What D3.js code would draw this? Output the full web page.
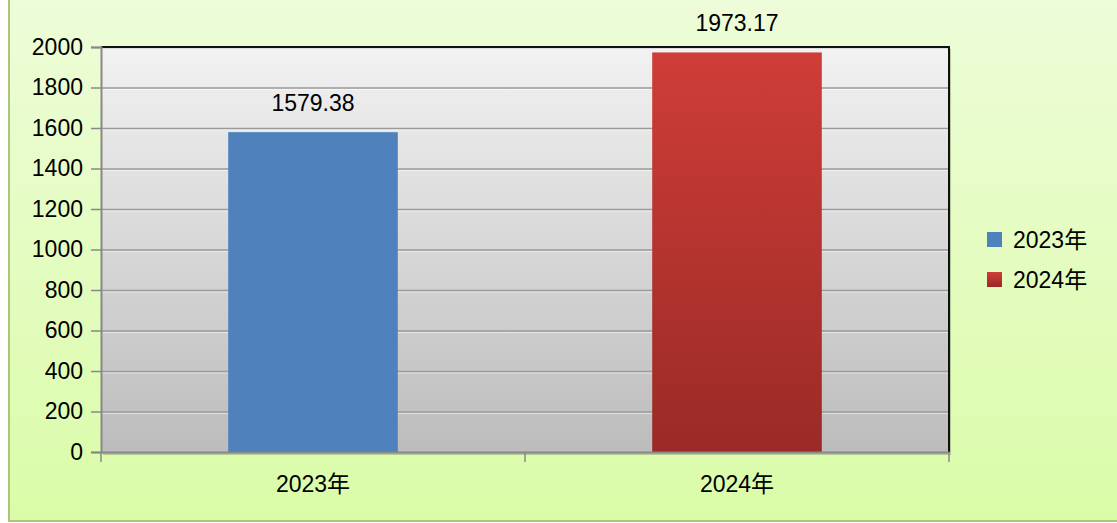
<!DOCTYPE html>
<html><head><meta charset="utf-8">
<script src="https://cdn.jsdelivr.net/npm/d3@7"></script>
<style>body{margin:0;background:#fff;} svg{display:block;}</style>
</head><body>
<script>
const categories = ["2023年", "2024年"];
const values = [1579.38, 1973.17];
const labels = ["1579.38", "1973.17"];
const yTicks = [0, 200, 400, 600, 800, 1000, 1200, 1400, 1600, 1800, 2000];
const colorsTop = ["#4f81bd", "#cf3d38"];
const colorsBot = ["#4f81bd", "#9a2a26"];

const W = 1117, H = 523;
const FONT = "Liberation Sans, Arial, 'Noto Sans CJK SC', sans-serif";
const svg = d3.select("body").append("svg").attr("width", W).attr("height", H);
const defs = svg.append("defs");

const bg = defs.append("linearGradient").attr("id","bg").attr("x1",0).attr("y1",0).attr("x2",0).attr("y2",1);
bg.append("stop").attr("offset","0%").attr("stop-color","#eefcd9");
bg.append("stop").attr("offset","100%").attr("stop-color","#dafca8");
const pg = defs.append("linearGradient").attr("id","pg").attr("x1",0).attr("y1",0).attr("x2",0).attr("y2",1);
pg.append("stop").attr("offset","0%").attr("stop-color","#f2f2f2");
pg.append("stop").attr("offset","100%").attr("stop-color","#bcbcbc");
categories.forEach((c,i)=>{
  const g = defs.append("linearGradient").attr("id","bar"+i).attr("x1",0).attr("y1",0).attr("x2",0).attr("y2",1);
  g.append("stop").attr("offset","0%").attr("stop-color",colorsTop[i]);
  g.append("stop").attr("offset","100%").attr("stop-color",colorsBot[i]);
});

// outer chart background
svg.append("rect").attr("x",9).attr("y",-5).attr("width",W).attr("height",H+5-2)
  .attr("fill","url(#bg)").attr("stroke","#a8c878").attr("stroke-width",2);

const L = 101, R = 949, T = 47, B = 452;
const x = d3.scaleBand().domain(categories).range([L,R]).paddingInner(0.6).paddingOuter(0.3);
const y = d3.scaleLinear().domain([0,2000]).range([B,T]);

// plot area shadow + fill
svg.append("rect").attr("x",L+2).attr("y",T+2).attr("width",R-L).attr("height",B-T+1).attr("fill","#8a9a70").attr("opacity",0.5);
svg.append("rect").attr("x",L).attr("y",T).attr("width",R-L).attr("height",B-T).attr("fill","url(#pg)");

// gridlines
svg.append("g").selectAll("line").data(yTicks.filter(d=>d>0)).join("line")
  .attr("x1",L).attr("x2",R).attr("y1",d=>y(d)+0.5).attr("y2",d=>y(d)+0.5)
  .attr("stroke","#9a9a9a").attr("stroke-width",1.5);
svg.append("g").selectAll("line").data(yTicks.filter(d=>d>0 && d<2000)).join("line")
  .attr("x1",L).attr("x2",R).attr("y1",d=>y(d)+2).attr("y2",d=>y(d)+2)
  .attr("stroke","#ffffff").attr("stroke-opacity",0.5).attr("stroke-width",1);

// top and right borders
svg.append("line").attr("x1",L).attr("x2",R+1).attr("y1",T).attr("y2",T).attr("stroke","#111").attr("stroke-width",2);
svg.append("line").attr("x1",R).attr("x2",R).attr("y1",T).attr("y2",B).attr("stroke","#111").attr("stroke-width",2);

// bars
svg.append("g").selectAll("rect").data(values).join("rect")
  .attr("x",(d,i)=>x(categories[i])).attr("width",x.bandwidth())
  .attr("y",d=>y(d)).attr("height",d=>B-y(d))
  .attr("fill",(d,i)=>`url(#bar${i})`);

// data labels
svg.append("g").selectAll("text").data(values).join("text")
  .attr("x",(d,i)=>x(categories[i])+x.bandwidth()/2).attr("y",d=>y(d)-21)
  .attr("text-anchor","middle").attr("font-family",FONT)
  .attr("font-size",23).attr("fill","#000").text((d,i)=>labels[i]);

// axes
const yAxis = svg.append("g").attr("transform",`translate(${L},0)`)
  .call(d3.axisLeft(y).tickValues(yTicks).tickSize(10).tickPadding(8).tickFormat(d3.format("d")));
yAxis.select(".domain").attr("stroke","#888").attr("stroke-width",2);
yAxis.selectAll(".tick line").attr("stroke","#888").attr("stroke-width",1.5);
yAxis.selectAll("text").attr("font-family",FONT).attr("font-size",23).attr("fill","#000");

const xAxis = svg.append("g").attr("transform",`translate(0,${B})`)
  .call(d3.axisBottom(x).tickSize(0).tickPadding(24));
xAxis.select(".domain").attr("stroke","#888").attr("stroke-width",2);
xAxis.selectAll("text").attr("font-family",FONT).attr("font-size",23).attr("fill","#000");
// category boundary ticks
const bounds = [L, (L+R)/2, R];
svg.append("g").selectAll("line").data(bounds).join("line")
  .attr("x1",d=>d).attr("x2",d=>d).attr("y1",B).attr("y2",B+10)
  .attr("stroke","#888").attr("stroke-width",1.5);

// legend
const lg = svg.append("g").selectAll("g").data(categories).join("g")
  .attr("transform",(d,i)=>`translate(987,${232+i*40})`);
lg.append("rect").attr("width",15).attr("height",15).attr("fill",(d,i)=>`url(#bar${i})`);
lg.append("text").attr("x",26).attr("y",8).attr("dy","0.36em")
  .attr("font-family",FONT).attr("font-size",23).attr("fill","#000").text(d=>d);
</script>
</body></html>
